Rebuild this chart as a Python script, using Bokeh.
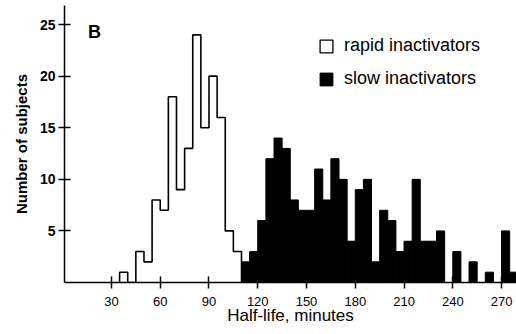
import numpy as np
from bokeh.plotting import figure
from bokeh.models import Range1d, FixedTicker, Legend, LegendItem, Label, ColumnDataSource
from bokeh.embed import file_html
from bokeh.resources import INLINE

# ---- data ----
bin_width = 5
rapid_start = 35
rapid_counts = [1, 0, 3, 2, 8, 7, 18, 9, 13, 24, 15, 20, 16, 5, 3]          # 35..110
slow_start = 110
slow_counts = [2, 3, 6, 12, 14, 13, 8, 7, 7, 11, 8, 12, 10, 4, 9, 10, 2, 7, 6, 3,
               4, 10, 4, 4, 5, 0, 3, 0, 2, 0, 1, 0, 5, 1]                    # 110..280
x_ticks = [30, 60, 90, 120, 150, 180, 210, 240, 270]
y_ticks = [5, 10, 15, 20, 25]

FONT = "Liberation Sans"

p = figure(width=516, height=334, output_backend="svg", toolbar_location=None,
           x_range=Range1d(1.1, 279.2), y_range=Range1d(0, 26.85),
           min_border_left=64, min_border_right=0, min_border_top=5, min_border_bottom=52)
p.outline_line_color = None
p.xgrid.visible = False
p.ygrid.visible = False
p.background_fill_color = "white"
p.border_fill_color = "white"

# slow inactivators: solid black bars
n_slow = len(slow_counts)
left = slow_start + bin_width * np.arange(n_slow)
src_slow = ColumnDataSource(dict(left=left, right=left + bin_width,
                                 top=slow_counts, bottom=np.zeros(n_slow)))
r_slow = p.quad(left="left", right="right", top="top", bottom="bottom", source=src_slow,
                fill_color="black", line_color="black", line_width=1)

# rapid inactivators: open outline histogram
n_rapid = len(rapid_counts)
edges = rapid_start + bin_width * np.arange(n_rapid + 1)
xs = np.concatenate([[rapid_start], edges])
ys = np.concatenate([[0], rapid_counts, [0]])
p.step(xs, ys, mode="after", line_color="black", line_width=1.6)

# open-box renderer used only for the legend swatch (hidden in the plot)
src_rapid = ColumnDataSource(dict(left=edges[:-1], right=edges[1:],
                                  top=rapid_counts, bottom=np.zeros(n_rapid)))
r_rapid = p.quad(left="left", right="right", top="top", bottom="bottom", source=src_rapid,
                 fill_color="white", line_color="black", line_width=1.3)
r_rapid.visible = False

legend = Legend(items=[LegendItem(label="rapid inactivators", renderers=[r_rapid]),
                       LegendItem(label="slow inactivators", renderers=[r_slow])],
                location=(254, 193))
legend.border_line_color = None
legend.background_fill_alpha = 0
legend.inactive_fill_alpha = 0
legend.padding = 0
legend.margin = 0
legend.spacing = 12
legend.glyph_width = 16
legend.glyph_height = 16
legend.label_height = 20
legend.label_standoff = 10
legend.label_text_font = FONT
legend.label_text_font_size = "18px"
legend.label_text_color = "black"
p.add_layout(legend)

p.add_layout(Label(x=19.5, y=24.3, text="B", text_font=FONT, text_font_size="18px",
                   text_font_style="bold", text_align="center", text_baseline="middle",
                   text_color="black"))

# axes
for ax in (p.xaxis[0], p.yaxis[0]):
    ax.axis_line_color = "black"
    ax.axis_line_width = 1.5
    ax.major_tick_line_color = "black"
    ax.major_tick_line_width = 1.5
    ax.major_tick_in = 6
    ax.major_tick_out = 6
    ax.minor_tick_line_color = None
    ax.major_label_text_color = "black"
    ax.major_label_text_font = FONT
    ax.axis_label_text_font = FONT
    ax.axis_label_text_color = "black"

p.xaxis.ticker = FixedTicker(ticks=x_ticks)
p.xaxis.major_label_text_font_size = "13px"
p.xaxis.major_label_standoff = 8
p.xaxis.axis_label = "Half-life, minutes"
p.xaxis.axis_label_text_font_size = "17px"
p.xaxis.axis_label_text_font_style = "normal"
p.xaxis.axis_label_standoff = -3

p.yaxis.ticker = FixedTicker(ticks=y_ticks)
p.yaxis.major_label_text_font_size = "14px"
p.yaxis.major_label_text_font_style = "bold"
p.yaxis.major_label_standoff = 3
p.yaxis.axis_label = "Number of subjects"
p.yaxis.axis_label_text_font_size = "15px"
p.yaxis.axis_label_text_font_style = "bold"
p.yaxis.axis_label_standoff = 7

open("out.html", "w").write(file_html(p, INLINE))
